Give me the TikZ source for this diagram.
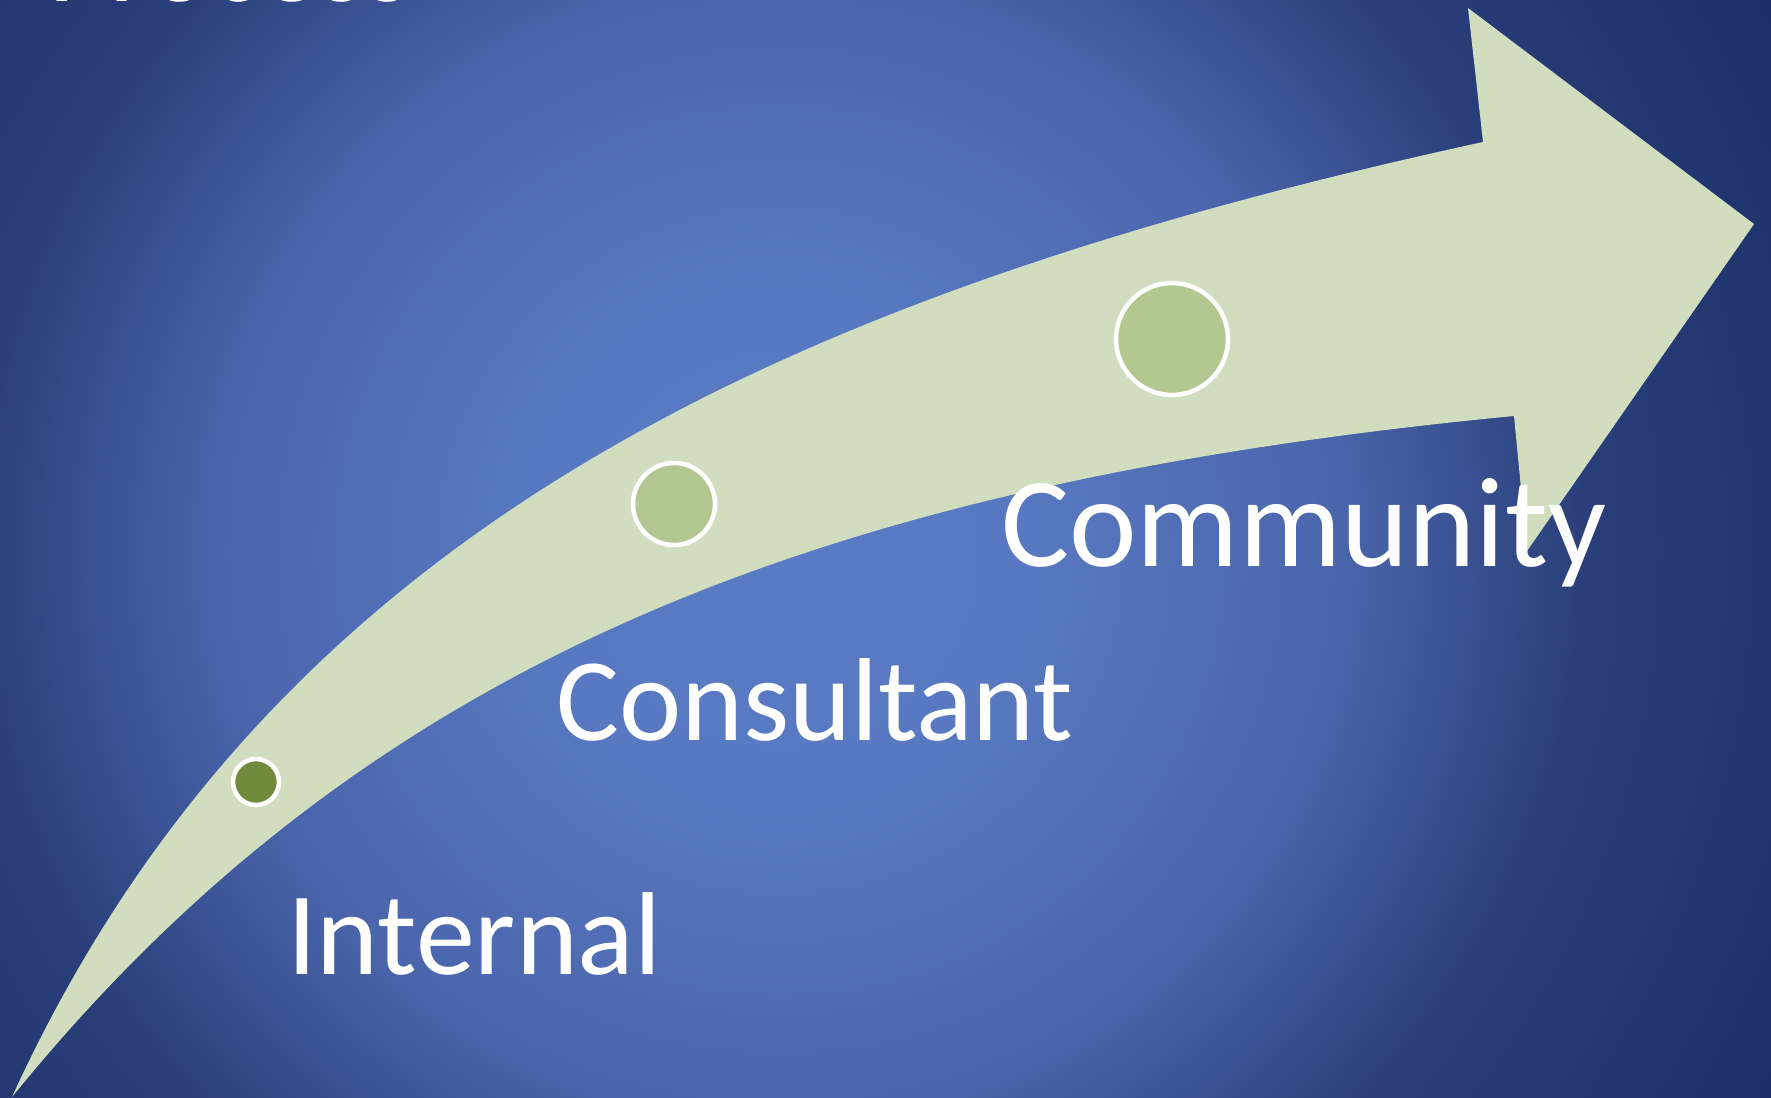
\documentclass[tikz,border=0pt]{standalone}
\usepackage{fontspec}
\setmainfont{Carlito}
\definecolor{bgA}{HTML}{5A7CC4}
\definecolor{bgB}{HTML}{5879C1}
\definecolor{bgC}{HTML}{4A65AC}
\definecolor{bgD}{HTML}{2A3F7A}
\definecolor{bgE}{HTML}{21356E}
\definecolor{bgF}{HTML}{1A2C66}
\definecolor{bandc}{HTML}{D0DDBF}
\definecolor{dotdark}{HTML}{718B3C}
\definecolor{dotlight}{HTML}{B3C891}
\pgfdeclareradialshading{bgshade}{\pgfpoint{0bp}{0bp}}{color(0bp)=(bgA); color(240bp)=(bgB); color(560bp)=(bgC); color(800bp)=(bgD); color(1000bp)=(bgE); color(1160bp)=(bgF); color(1300bp)=(bgF)}
\tikzset{
  dotnode/.style={circle, draw=white, line width=4.5pt, inner sep=0pt},
  labeltext/.style={anchor=base west, inner sep=0pt, text=white, font=\fontsize{118}{132}\selectfont},
}
\begin{document}
\begin{tikzpicture}[x=1pt,y=-1pt]
\useasboundingbox (0,0) rectangle (1771,1097);
\clip (0,0) rectangle (1771,1097);
\node[inner sep=0pt, outer sep=0pt] (bg) at (780,550) {\pgfuseshading{bgshade}};
% title remnant
\node[labeltext] (title) at (48,2) {Process};
% curved arrow
\fill[bandc] (12,1097) .. controls (270,533) and (780,295) .. (1483,142)
  -- (1468,8) -- (1754,224) -- (1527,551) -- (1514,416)
  .. controls (817,483) and (365,662) .. (12,1097) -- cycle;
% dots
\node[dotnode, fill=dotdark, minimum size=46pt] (d1) at (256,782) {};
\node[dotnode, fill=dotlight, minimum size=82pt] (d2) at (674,504) {};
\node[dotnode, fill=dotlight, minimum size=112pt] (d3) at (1172,339) {};
% labels
\node[labeltext] (internal) at (287,974) {Internal};
\node[labeltext] (consultant) at (556,740) {Consultant};
\node[labeltext, font=\fontsize{128}{142}\selectfont] (community) at (1001,566) {Community};
\end{tikzpicture}
\end{document}
